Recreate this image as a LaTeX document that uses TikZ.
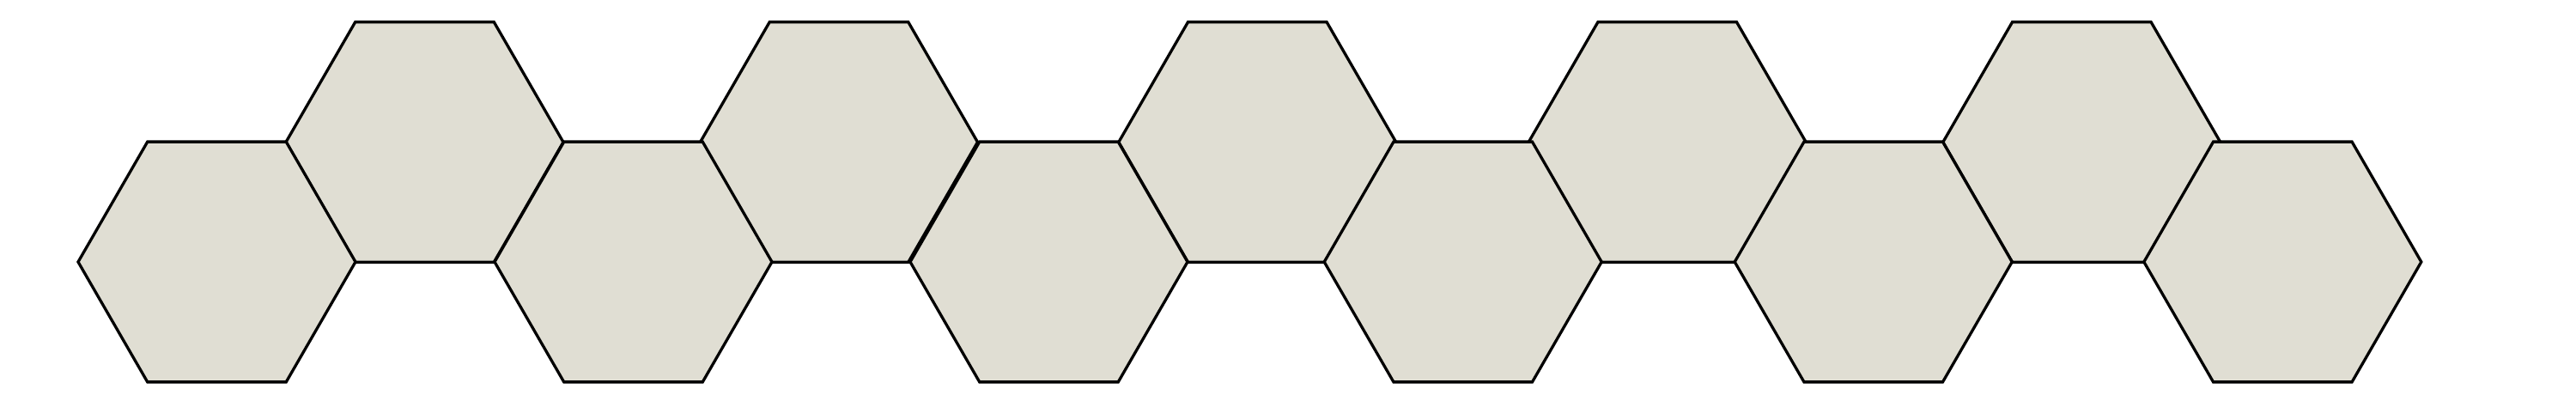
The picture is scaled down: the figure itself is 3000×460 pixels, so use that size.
\documentclass[tikz,border=0pt]{standalone}
\definecolor{hexfill}{RGB}{224,222,211}
\tikzset{hexcell/.style={draw=black, fill=hexfill, line width=3.3pt, line join=miter}}
\begin{document}
\begin{tikzpicture}[x=1pt,y=-1pt]
\useasboundingbox (0,0) rectangle (3000,460);
\def\r{161.5}
% top row
\foreach \cx in {494.5,977,1464.3,1941.7,2424.3}{
  \draw[hexcell] (\cx,165.5) +(0:\r) -- +(60:\r) -- +(120:\r) -- +(180:\r) -- +(240:\r) -- +(300:\r) -- cycle;
}
% bottom row
\foreach \cx in {252.5,737.5,1221.5,1703.7,2181.7,2658.3}{
  \draw[hexcell] (\cx,305) +(0:\r) -- +(60:\r) -- +(120:\r) -- +(180:\r) -- +(240:\r) -- +(300:\r) -- cycle;
}
\end{tikzpicture}
\end{document}
